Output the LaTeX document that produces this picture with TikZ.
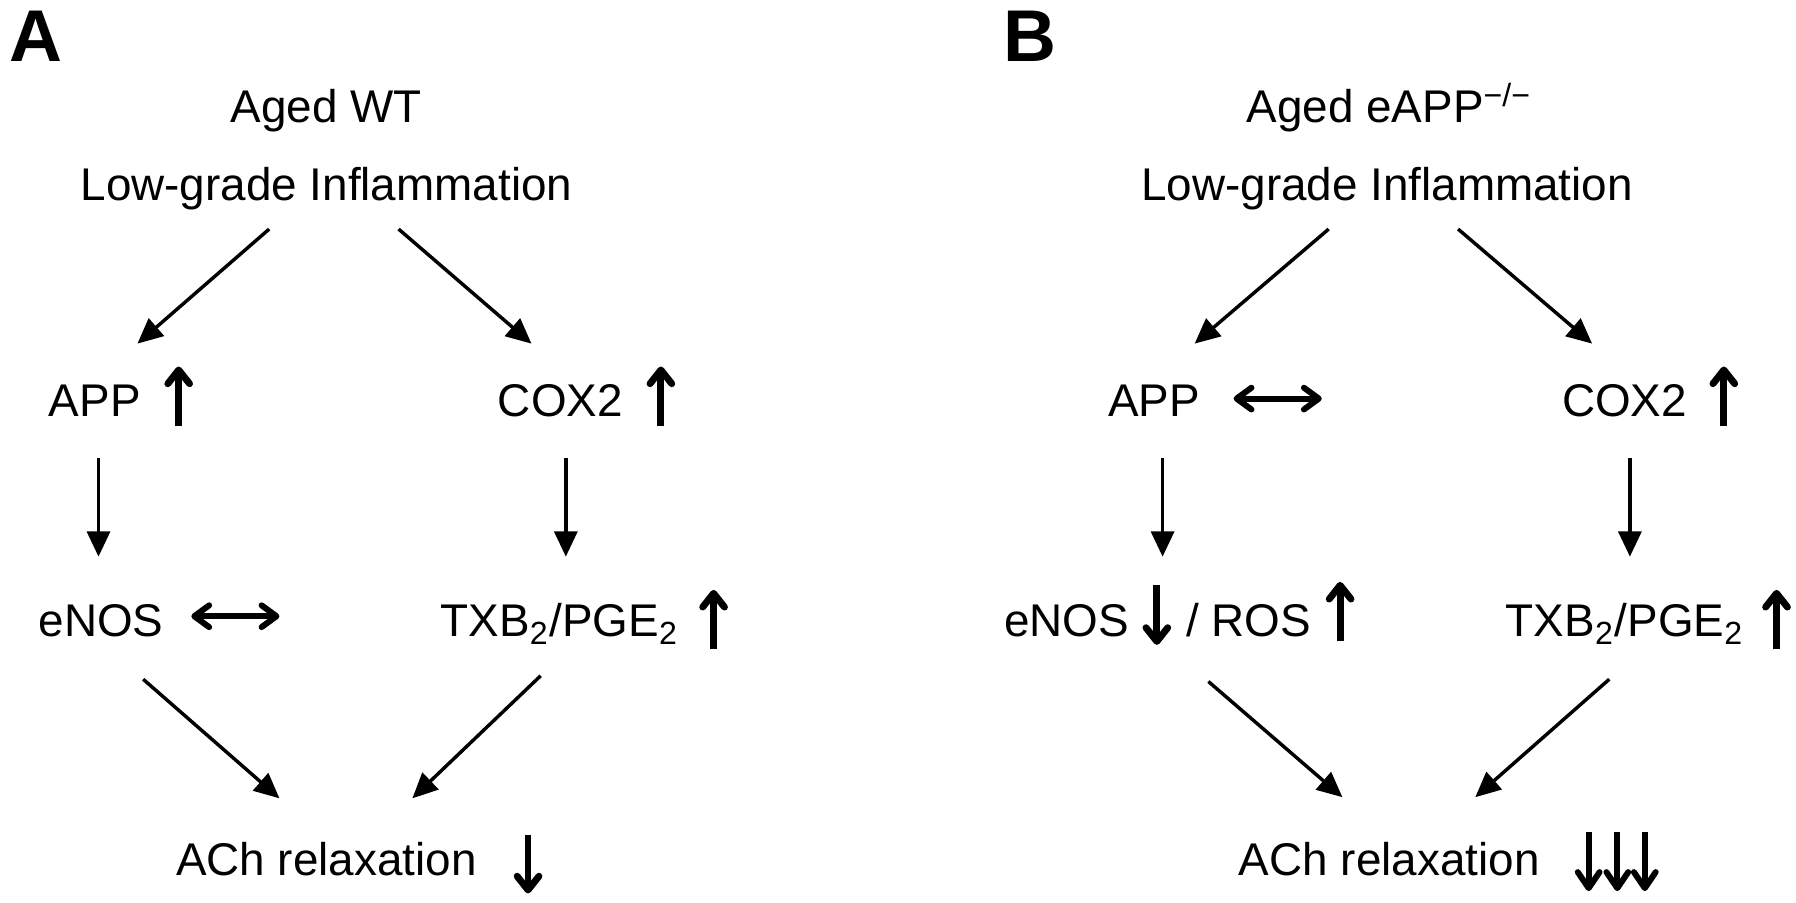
\documentclass[tikz,border=0pt]{standalone}
\usepackage{fontspec}
\setmainfont{Liberation Sans}
\usetikzlibrary{arrows.meta}
\begin{document}
\begin{tikzpicture}[x=0.01cm,y=-0.01cm,
  lbl/.style={inner sep=0pt, font=\fontsize{11.38pt}{13pt}\selectfont},
  panel/.style={inner sep=0pt, anchor=base west, font=\fontsize{18.2pt}{20pt}\selectfont\bfseries},
  conn/.style={line width=0.03cm, -{Triangle[length=0.22cm,width=0.2cm]}},
  upd/.style={line width=0.06cm, -{Straight Barb[length=0.12cm,width=0.19cm,round]}},
  thin3/.style={line width=0.052cm, -{Straight Barb[length=0.14cm,width=0.19cm,round]}},
  dbl/.style={line width=0.052cm, {Straight Barb[length=0.13cm,width=0.19cm,round]}-{Straight Barb[length=0.13cm,width=0.19cm,round]}}]
\useasboundingbox (0,0) rectangle (1568,788);
% ---------- Panel A ----------
\node[panel] (labA) at (8,54) {A};
\node[lbl,anchor=base] (agedA) at (285,107) {Aged WT};
\node[lbl,anchor=base] (inflA) at (285,175) {Low-grade Inflammation};
\node[lbl,anchor=base west] (appA) at (42,364) {APP};
\node[lbl,anchor=base west] (coxA) at (434,364) {COX2};
\node[lbl,anchor=base west] (enosA) at (33,556) {eNOS};
\node[lbl,anchor=base west] (txbA) at (384,556) {TXB\textsubscript{2}/PGE\textsubscript{2}};
\node[lbl,anchor=base west] (achA) at (153,764) {ACh relaxation};
% connector ends
\coordinate (a1s) at (235,200); \coordinate (a1e) at (120,300);
\coordinate (a2s) at (348,200); \coordinate (a2e) at (464,300);
\coordinate (a3s) at (86,400);  \coordinate (a3e) at (86,486);
\coordinate (a4s) at (494,400); \coordinate (a4e) at (494,486);
\coordinate (a5s) at (125,593); \coordinate (a5e) at (244,697);
\coordinate (a6s) at (472,590); \coordinate (a6e) at (360,697);
\draw[conn] (a1s) -- (a1e);
\draw[conn] (a2s) -- (a2e);
\draw[conn] (a3s) -- (a3e);
\draw[conn] (a4s) -- (a4e);
\draw[conn] (a5s) -- (a5e);
\draw[conn] (a6s) -- (a6e);
% status arrows
\coordinate (sA1s) at (156,372); \coordinate (sA1e) at (156,320);
\coordinate (sA2s) at (577,372); \coordinate (sA2e) at (577,320);
\coordinate (sA3s) at (167,538); \coordinate (sA3e) at (244,538);
\coordinate (sA4s) at (623,567); \coordinate (sA4e) at (623,515);
\coordinate (sA5s) at (461,729); \coordinate (sA5e) at (461,780);
\draw[upd] (sA1s) -- (sA1e);
\draw[upd] (sA2s) -- (sA2e);
\draw[dbl] (sA3s) -- (sA3e);
\draw[upd] (sA4s) -- (sA4e);
\draw[upd] (sA5s) -- (sA5e);
% ---------- Panel B ----------
\node[panel] (labB) at (875,54) {B};
\node[lbl,anchor=base] (agedB) at (1213,107) {Aged eAPP\textsuperscript{−/−}};
\node[lbl,anchor=base] (inflB) at (1211,175) {Low-grade Inflammation};
\node[lbl,anchor=base west] (appB) at (967,364) {APP};
\node[lbl,anchor=base west] (coxB) at (1363,364) {COX2};
\node[lbl,anchor=base west] (enosB) at (876,556) {eNOS};
\node[lbl,anchor=base west] (rosB) at (1035,556) {/ ROS};
\node[lbl,anchor=base west] (txbB) at (1314,556) {TXB\textsubscript{2}/PGE\textsubscript{2}};
\node[lbl,anchor=base west] (achB) at (1081,764) {ACh relaxation};
\coordinate (b1s) at (1160,200); \coordinate (b1e) at (1043,300);
\coordinate (b2s) at (1273,200); \coordinate (b2e) at (1390,300);
\coordinate (b3s) at (1015,400); \coordinate (b3e) at (1015,486);
\coordinate (b4s) at (1423,400); \coordinate (b4e) at (1423,486);
\coordinate (b5s) at (1055,595); \coordinate (b5e) at (1172,696);
\coordinate (b6s) at (1405,593); \coordinate (b6e) at (1288,696);
\draw[conn] (b1s) -- (b1e);
\draw[conn] (b2s) -- (b2e);
\draw[conn] (b3s) -- (b3e);
\draw[conn] (b4s) -- (b4e);
\draw[conn] (b5s) -- (b5e);
\draw[conn] (b6s) -- (b6e);
\coordinate (sB1s) at (1077,348); \coordinate (sB1e) at (1154,348);
\coordinate (sB2s) at (1505,372); \coordinate (sB2e) at (1505,320);
\coordinate (sB3s) at (1010,511); \coordinate (sB3e) at (1010,563);
\coordinate (sB4s) at (1170,560); \coordinate (sB4e) at (1170,508);
\coordinate (sB5s) at (1551,567); \coordinate (sB5e) at (1551,515);
\coordinate (sB6s) at (1387,726); \coordinate (sB6e) at (1387,778);
\coordinate (sB7s) at (1412,726); \coordinate (sB7e) at (1412,778);
\coordinate (sB8s) at (1436,726); \coordinate (sB8e) at (1436,778);
\draw[dbl] (sB1s) -- (sB1e);
\draw[upd] (sB2s) -- (sB2e);
\draw[upd] (sB3s) -- (sB3e);
\draw[upd] (sB4s) -- (sB4e);
\draw[upd] (sB5s) -- (sB5e);
\draw[thin3] (sB6s) -- (sB6e);
\draw[thin3] (sB7s) -- (sB7e);
\draw[thin3] (sB8s) -- (sB8e);
\end{tikzpicture}
\end{document}
